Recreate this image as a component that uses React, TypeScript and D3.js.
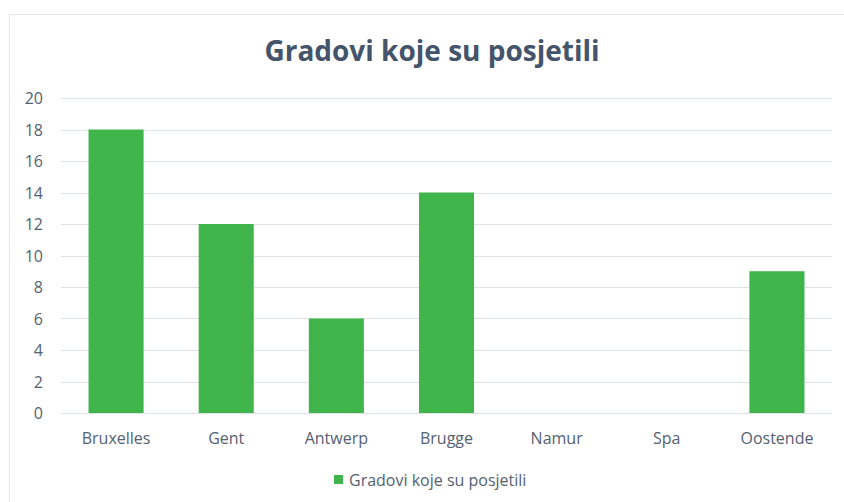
import React from "react";
import * as d3 from "d3";

const categories = ["Bruxelles", "Gent", "Antwerp", "Brugge", "Namur", "Spa", "Oostende"];
const values = [18, 12, 6, 14, 0, 0, 9];
const yTicks = [0, 2, 4, 6, 8, 10, 12, 14, 16, 18, 20];
const title = "Gradovi koje su posjetili";
const seriesName = "Gradovi koje su posjetili";

const W = 844;
const H = 502;
const FONT = "'Open Sans', 'Noto Sans', sans-serif";

export default function App() {
  const x = d3.scaleBand<string>().domain(categories).range([61, 832]).paddingInner(0.5).paddingOuter(0.25);
  const y = d3.scaleLinear().domain([0, 20]).range([413, 98]);
  const green = "#3FB54B";
  const textColor = "#556173";
  return (
    <svg width={W} height={H} style={{ position: "fixed", left: 0, top: 0, background: "#fff" }}>
      <rect x={9.5} y={14.5} width={W} height={H} fill="#fff" stroke="#E3E6EA" strokeWidth={1} />
      <text x={432} y={50} textAnchor="middle" dominantBaseline="central" fontFamily={FONT} fontWeight={700} fontSize={28} fill="#44546A">
        {title}
      </text>
      {yTicks.map((t) => (
        <g key={t}>
          <line x1={61} x2={832} y1={Math.round(y(t)) + 0.5} y2={Math.round(y(t)) + 0.5} stroke="#DDE2E8" strokeWidth={1} />
          <text x={43} y={y(t)} textAnchor="end" dominantBaseline="central" fontFamily={FONT} fontSize={16} fill={textColor}>
            {t}
          </text>
        </g>
      ))}
      {categories.map((c, i) => (
        <g key={c}>
          {values[i] > 0 && (
            <rect x={x(c)} y={y(values[i])} width={x.bandwidth()} height={y(0) - y(values[i])} fill={green} />
          )}
          <text x={(x(c) as number) + x.bandwidth() / 2} y={438} textAnchor="middle" dominantBaseline="central" fontFamily={FONT} fontSize={16} fill={textColor}>
            {c}
          </text>
        </g>
      ))}
      <rect x={334} y={475} width={9} height={9} fill={green} />
      <text x={349} y={480} dominantBaseline="central" fontFamily={FONT} fontSize={16} fill={textColor}>
        {seriesName}
      </text>
    </svg>
  );
}
